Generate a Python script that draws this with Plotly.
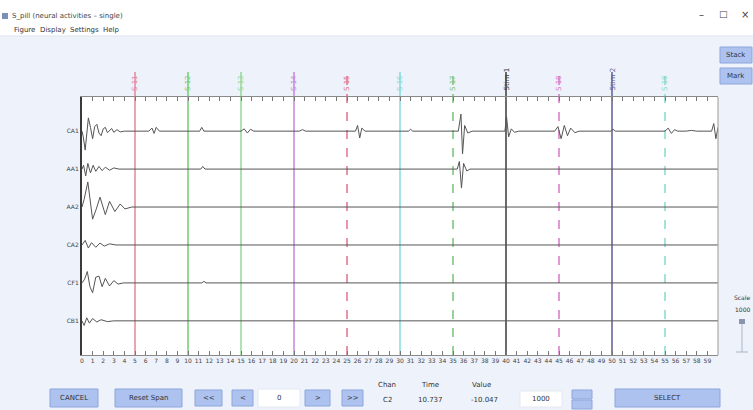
import plotly.graph_objects as go

# ---------------- data ----------------
channel_names = ["CA1", "AA1", "AA2", "CA2", "CF1", "CB1"]

# (time s, deflection in channel units) points
ch_a = [(0, 0), (0.12, -0.15), (0.3, -0.5), (0.45, 0.05), (0.6, 0.35), (0.8, 0.1), (1.0, -0.2),
        (1.2, 0.12), (1.4, 0.18), (1.6, -0.05), (1.8, -0.12), (2.0, 0.06), (2.2, 0.1), (2.4, -0.04),
        (2.6, 0.02), (2.8, 0.07), (3.0, -0.03), (3.3, 0.04), (3.6, -0.02), (4.0, 0),
        (6.3, 0), (6.6, 0.08), (6.8, -0.06), (7.0, 0.1), (7.3, 0),
        (11.1, 0), (11.3, 0.1), (11.5, 0),
        (15.0, 0), (15.3, 0.06), (15.6, -0.05), (15.9, 0.05), (16.2, 0),
        (20.5, 0), (20.8, 0.04), (21.1, 0),
        (25.8, 0), (26.0, 0.15), (26.2, -0.18), (26.4, 0.08), (26.7, 0),
        (30.8, 0), (31.0, 0.05), (31.2, 0),
        (35.5, 0), (35.75, 0.45), (35.9, -0.6), (36.1, 0.15), (36.4, -0.05), (36.8, 0),
        (39.9, 0), (40.05, 0.38), (40.25, -0.15), (40.5, 0.06), (40.8, -0.03), (41.2, 0),
        (44.6, 0), (44.9, 0.12), (45.2, -0.2), (45.5, 0.15), (45.8, -0.12), (46.1, 0.08),
        (46.5, -0.04), (46.9, 0),
        (49.9, 0), (50.1, 0.05), (50.3, 0),
        (55.0, 0), (55.3, 0.08), (55.6, -0.06), (55.9, 0.04), (56.2, 0),
        (57.0, 0), (57.5, 0.02), (58.0, 0),
        (59.4, 0), (59.6, 0.2), (59.8, -0.2), (60.0, 0.1)]
ch_b = [(0, 0), (0.15, 0.1), (0.35, -0.18), (0.55, 0.15), (0.8, -0.1), (1.05, 0.1), (1.3, -0.06),
        (1.6, 0.07), (1.9, -0.04), (2.2, 0.05), (2.6, -0.03), (3.0, 0.03), (3.5, 0),
        (11.2, 0), (11.4, 0.07), (11.6, 0),
        (35.4, 0), (35.6, 0.2), (35.8, -0.5), (36.0, 0.15), (36.3, -0.05), (36.6, 0),
        (60, 0)]
ch_c = [(0, 0), (0.2, 0.2), (0.55, 0.66), (0.8, 0.1), (1.0, -0.32), (1.35, -0.05), (1.7, 0.26),
        (2.2, -0.2), (2.6, 0.15), (3.1, -0.12), (3.6, 0.08), (4.05, -0.05), (4.7, 0), (60, 0)]
ch_d = [(0, 0), (0.3, 0.12), (0.6, -0.08), (0.9, 0.06), (1.3, -0.06), (1.7, 0.05), (2.1, -0.03),
        (2.6, 0.03), (3.2, 0), (60, 0)]
ch_e = [(0, 0), (0.25, 0.1), (0.5, 0.3), (0.75, -0.1), (1.0, -0.26), (1.3, 0.15), (1.6, 0.18),
        (1.9, -0.1), (2.2, 0.12), (2.6, -0.08), (3.0, 0.06), (3.4, -0.03), (3.9, 0),
        (11.3, 0), (11.5, 0.04), (11.7, 0), (60, 0)]
ch_f = [(0, 0), (0.2, -0.12), (0.45, 0.08), (0.7, -0.06), (1.0, 0.06), (1.4, -0.03), (1.8, 0.03),
        (2.4, -0.02), (3.0, 0), (60, 0)]
channels = [ch_a, ch_b, ch_c, ch_d, ch_e, ch_f]

marker_times = [5, 10, 15, 20, 25, 30, 35, 40, 45, 50, 55]
marker_labels = ["S 11", "S 12", "S 13", "S 14", "S 15", "S 16", "S 17", "Stim 1", "S 18", "Stim 2", "S 19"]
marker_colors = ["#e0889a", "#72cc72", "#93d893", "#c486dc", "#e0708c", "#84dada",
                 "#78c478", "#3a3a3a", "#d878c8", "#5c5c94", "#84dccc"]
marker_dash = ["solid", "solid", "solid", "solid", "dash", "solid", "dash", "solid", "dash", "solid", "dash"]

tick_labels = [str(i) for i in range(60)]

# ---------------- figure ----------------
W, H = 753, 410
L, R, T, B = 82, 35, 97, 55
PW, PH = W - L - R, H - T - B


def px(x):
    return (x - L) / PW


def py(y):
    return (H - B - y) / PH


fig = go.Figure()
n = len(channels)
for i, pts in enumerate(channels):
    off = n - i
    fig.add_trace(go.Scatter(
        x=[p[0] for p in pts], y=[off + p[1] for p in pts], mode="lines",
        line=dict(color="#555555", width=1), hoverinfo="skip", showlegend=False,
        name=channel_names[i]))

shapes = []
annotations = []
# event markers
for t, lab, c, d in zip(marker_times, marker_labels, marker_colors, marker_dash):
    shapes.append(dict(type="line", xref="x", yref="paper", x0=t, x1=t, y0=0, y1=py(72),
                       line=dict(color=c, width=1.5, dash=d), layer="below"))
    annotations.append(dict(x=t, y=1, xref="x", yref="paper", text=lab, textangle=-90,
                            showarrow=False, yanchor="bottom", yshift=4,
                            font=dict(size=7, color=c, family="DejaVu Sans")))

# right border of the plot
shapes.append(dict(type="line", xref="paper", yref="paper", x0=1, x1=1, y0=0, y1=1,
                   line=dict(color="#9a9a9a", width=1)))

# title / menu bar
shapes.append(dict(type="rect", xref="paper", yref="paper", x0=px(0), x1=px(W), y0=py(36), y1=py(0),
                   fillcolor="white", line=dict(width=0), layer="below"))
shapes.append(dict(type="line", xref="paper", yref="paper", x0=px(0), x1=px(W), y0=py(36), y1=py(36),
                   line=dict(color="#dde3ee", width=1)))


def txt(x, y, s, size=7, color="#333", anchor="center", fam="DejaVu Sans"):
    annotations.append(dict(x=px(x), y=py(y), xref="paper", yref="paper", text=s, showarrow=False,
                            xanchor=anchor, yanchor="middle", font=dict(size=size, color=color, family=fam)))


def button(x0, x1, y0, y1, label, fill="#aec2f0", edge="#8ea6de"):
    shapes.append(dict(type="rect", xref="paper", yref="paper", x0=px(x0), x1=px(x1), y0=py(y1), y1=py(y0),
                       fillcolor=fill, line=dict(color=edge, width=1)))
    txt((x0 + x1) / 2, (y0 + y1) / 2, label)


txt(10, 16, "S_pill (neural activities – single)", size=7, color="#444", anchor="left")
shapes.append(dict(type="rect", xref="paper", yref="paper", x0=px(2), x1=px(8), y0=py(19), y1=py(13),
                   fillcolor="#7a8fb8", line=dict(width=0)))
txt(12, 30, "Figure", anchor="left")
txt(38, 30, "Display", anchor="left")
txt(68, 30, "Settings", anchor="left")
txt(101, 30, "Help", anchor="left")
txt(701, 14, "–", size=10, color="#444")
txt(723, 14, "□", size=9, color="#444")
txt(745, 14, "×", size=10, color="#444")

# right side buttons
button(720, 752, 47, 63, "Stack", )
button(720, 752, 68, 84, "Mark")
txt(742, 297, "Scale", size=6)
txt(742, 309, "1000", size=6)
shapes.append(dict(type="line", xref="paper", yref="paper", x0=px(742), x1=px(742), y0=py(352), y1=py(320),
                   line=dict(color="#aab4c8", width=1)))
shapes.append(dict(type="rect", xref="paper", yref="paper", x0=px(739), x1=px(745), y0=py(324), y1=py(319),
                   fillcolor="#8a96b0", line=dict(width=0)))
shapes.append(dict(type="line", xref="paper", yref="paper", x0=px(736), x1=px(748), y0=py(352), y1=py(352),
                   line=dict(color="#aab4c8", width=1)))

# bottom controls
button(50, 98, 389, 407, "CANCEL")
button(115, 182, 389, 407, "Reset Span")
button(195, 222, 390, 406, "<<")
button(232, 253, 390, 406, "<")
button(258, 300, 389, 407, "0", fill="white", edge="#e4e8f0")
button(305, 330, 390, 406, ">")
button(342, 363, 390, 406, ">>")
txt(387, 385, "Chan")
txt(430, 385, "Time")
txt(481, 385, "Value")
txt(387, 400, "C2")
txt(430, 400, "10.737")
txt(484, 400, "-10.047")
button(520, 562, 391, 407, "1000", fill="white", edge="#e4e8f0")
button(572, 592, 390, 399, "")
button(572, 592, 400, 409, "")
button(615, 720, 389, 407, "SELECT")

fig.update_layout(
    width=W, height=H, margin=dict(l=L, r=R, t=T, b=B),
    paper_bgcolor="#eef2fa", plot_bgcolor="white",
    showlegend=False, shapes=shapes, annotations=annotations,
    xaxis=dict(range=[0, 60], tickvals=list(range(60)), ticktext=tick_labels, ticks="inside", ticklen=4,
               tickcolor="#777", showline=True, linecolor="#8a8a8a", mirror="ticks", showgrid=False,
               zeroline=False, tickfont=dict(size=6, color="#444", family="DejaVu Sans")),
    yaxis=dict(range=[0.1, 6.9], tickvals=[6, 5, 4, 3, 2, 1], ticktext=channel_names, ticks="",
               showline=True, linecolor="#3a3a3a", linewidth=2, showgrid=False, zeroline=False,
               tickfont=dict(size=6, color="#444", family="DejaVu Sans")),
    font=dict(family="DejaVu Sans"),
)

fig.write_html("out.html", config={"displayModeBar": False},
               post_script="document.body.style.margin='0';document.body.style.overflow='hidden';")
